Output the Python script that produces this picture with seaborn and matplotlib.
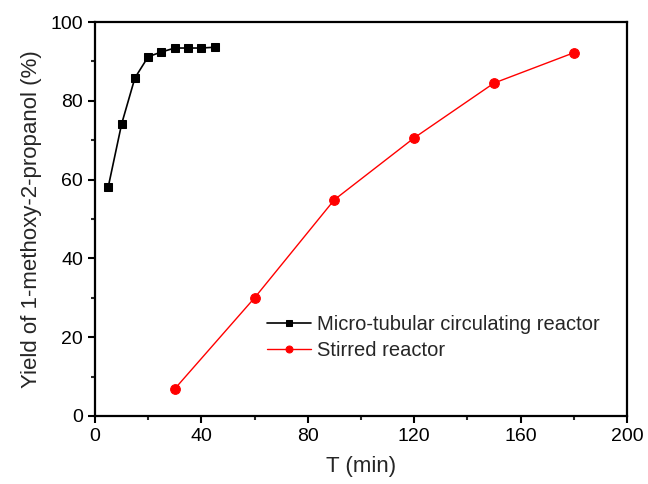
import pandas as pd
import numpy as np
import matplotlib.pyplot as plt
import seaborn as sns
from matplotlib.ticker import MultipleLocator

sns.set_style('ticks')
plt.rcParams['font.family'] = ['Liberation Sans', 'DejaVu Sans']

# data
micro_t = [5, 10, 15, 20, 25, 30, 35, 40, 45]
micro_yield = [58.2, 74.1, 85.8, 91.2, 92.4, 93.4, 93.4, 93.4, 93.6]
stirred_t = [30, 60, 90, 120, 150, 180]
stirred_yield = [6.9, 30.0, 54.9, 70.6, 84.5, 92.2]

fig = plt.figure(figsize=(6.48, 4.84), dpi=100)
ax = fig.add_axes([0.1466, 0.1405, 0.821, 0.814])

sns.lineplot(x=micro_t, y=micro_yield, ax=ax, color='black', marker='s', markersize=6,
             markeredgecolor='black', linewidth=1.2, label='Micro-tubular circulating reactor')
sns.lineplot(x=stirred_t, y=stirred_yield, ax=ax, color='red', marker='o', markersize=7,
             markeredgecolor='red', linewidth=1.0, label='Stirred reactor')

ax.set_xlim(0, 200)
ax.set_ylim(0, 100)
ax.xaxis.set_major_locator(MultipleLocator(40))
ax.xaxis.set_minor_locator(MultipleLocator(20))
ax.yaxis.set_major_locator(MultipleLocator(20))
ax.yaxis.set_minor_locator(MultipleLocator(10))
ax.tick_params(which='major', direction='out', length=5, width=1.5, labelsize=14, colors='black')
ax.tick_params(which='minor', direction='out', length=3, width=1.5)
for s in ax.spines.values():
    s.set_linewidth(1.6)
    s.set_color('black')
ax.set_xlabel('T (min)', fontsize=16, labelpad=8)
ax.set_ylabel('Yield of 1-methoxy-2-propanol (%)', fontsize=16, labelpad=6)

leg = ax.legend(loc='upper left', bbox_to_anchor=(0.323, 0.256), frameon=False, fontsize=14.5,
                handlelength=2.2, handletextpad=0.3, borderpad=0, borderaxespad=0,
                labelspacing=0.35)
for h in leg.legend_handles:
    h.set_markersize(5)

fig.savefig('out.png', dpi=100)
